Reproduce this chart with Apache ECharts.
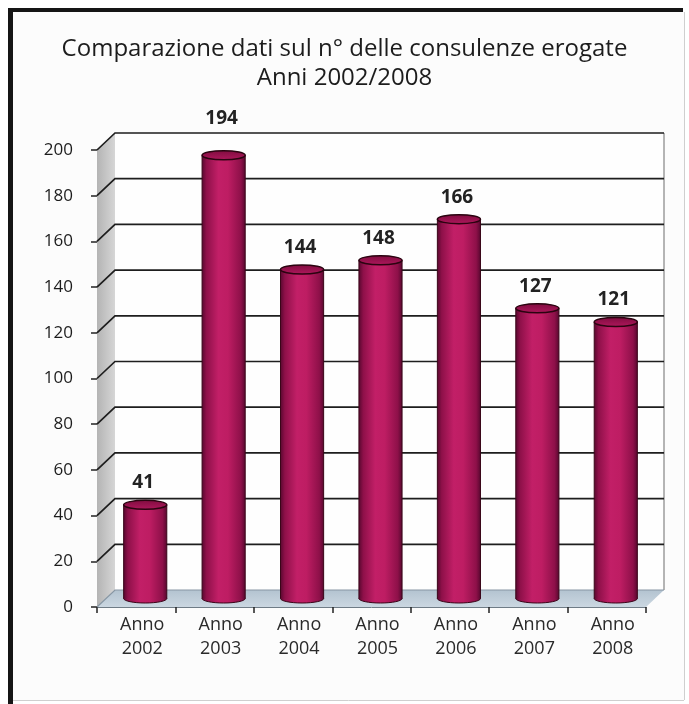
<!DOCTYPE html>
<html>
<head>
<meta charset="utf-8">
<script src="https://cdn.jsdelivr.net/npm/echarts@6/dist/echarts.min.js"></script>
<style>
  html, body { margin: 0; padding: 0; background: #ffffff; }
  #chart { width: 689px; height: 704px; }
</style>
</head>
<body>
<div id="chart"></div>
<script>
// Consulenze erogate per anno
const years = ['2002', '2003', '2004', '2005', '2006', '2007', '2008'];
const consulenze = [41, 194, 144, 148, 166, 127, 121];
const yTicks = [0, 20, 40, 60, 80, 100, 120, 140, 160, 180, 200];
const titleLines = ['Comparazione dati sul n° delle consulenze erogate', 'Anni 2002/2008'];
const categoryLabels = years.map(y => 'Anno\n' + y);

// Pseudo-3D depth of the plot box (back wall offset from the front plane)
const DEPTH_X = 18;
const DEPTH_Y = -17;
const FONT = '"Open Sans", "Noto Sans", "DejaVu Sans", sans-serif';

// Front-plane box of the plot, taken from the axes
function plotFrame(api) {
  const n = years.length;
  const bw = api.size([1, 0])[0];
  const first = api.coord([0, 0]);
  const last = api.coord([n - 1, 0]);
  const top = api.coord([0, yTicks[yTicks.length - 1]]);
  return {
    left: first[0] - bw / 2,
    right: last[0] + bw / 2,
    bottom: first[1],
    top: top[1],
    bw: bw
  };
}

// Back wall, side wall and floor
function renderWalls(params, api) {
  const f = plotFrame(api);
  const L = f.left, R = f.right, B = f.bottom, T = f.top;
  const dx = DEPTH_X, dy = DEPTH_Y;
  return {
    type: 'group',
    children: [
      {
        type: 'rect',
        shape: { x: L + dx, y: T + dy, width: R - L, height: B - T },
        style: { fill: '#fefefe' }
      },
      {
        type: 'polygon',
        shape: { points: [[L, T], [L + dx, T + dy], [L + dx, B + dy], [L, B]] },
        style: {
          fill: new echarts.graphic.LinearGradient(0, 0, 1, 0, [
            { offset: 0, color: '#b4b4b4' },
            { offset: 1, color: '#d6d6d6' }
          ])
        }
      },
      {
        type: 'polygon',
        shape: { points: [[L, B], [L + dx, B + dy], [R + dx, B + dy], [R, B]] },
        style: {
          fill: new echarts.graphic.LinearGradient(0, 0, 0, 1, [
            { offset: 0, color: '#b3c3d0' },
            { offset: 1, color: '#cbd7e1' }
          ])
        }
      },
      {
        type: 'line',
        shape: { x1: R + dx, y1: T + dy, x2: R + dx, y2: B + dy },
        style: { stroke: '#9c9c9c', lineWidth: 1.5 }
      }
    ]
  };
}

// One grid line per tick: diagonal on the side wall, then across the back wall
function renderGridLine(params, api) {
  const f = plotFrame(api);
  const v = api.value(1);
  const y = api.coord([0, v])[1];
  return {
    type: 'polyline',
    shape: {
      points: [
        [f.left, y],
        [f.left + DEPTH_X, y + DEPTH_Y],
        [f.right + DEPTH_X, y + DEPTH_Y]
      ]
    },
    style: {
      fill: null,
      stroke: v === 0 ? '#8796a3' : '#1e1e1e',
      lineWidth: v === 0 ? 1.2 : 1.7
    }
  };
}

// Cylinder bars standing halfway into the depth of the box
function renderCylinder(params, api) {
  const f = plotFrame(api);
  const i = api.value(0);
  const v = api.value(1);
  const base = api.coord([i, 0]);
  const topP = api.coord([i, v]);
  const rx = f.bw * 0.275;
  const ry = 4.5;
  const cx = base[0] + DEPTH_X / 2;
  const by = base[1] + DEPTH_Y / 2;
  const ty = topP[1] + DEPTH_Y / 2;
  const wallTop = f.top + DEPTH_Y;
  // value label sits above the cylinder; lifted over the top edge of the wall when it would touch it
  let labelY = ty - 22;
  if (labelY < wallTop + 12) labelY = wallTop - 14;

  const bodyFill = () => new echarts.graphic.LinearGradient(0, 0, 1, 0, [
    { offset: 0, color: '#5a0830' },
    { offset: 0.1, color: '#8e1049' },
    { offset: 0.38, color: '#c21f67' },
    { offset: 0.6, color: '#be1d63' },
    { offset: 0.9, color: '#8e1049' },
    { offset: 1, color: '#5a0830' }
  ]);

  return {
    type: 'group',
    children: [
      {
        type: 'ellipse',
        shape: { cx: cx, cy: by, rx: rx, ry: ry },
        style: { fill: bodyFill(), stroke: '#3a0619', lineWidth: 1 }
      },
      {
        type: 'rect',
        shape: { x: cx - rx, y: ty, width: rx * 2, height: by - ty },
        style: { fill: bodyFill() }
      },
      {
        type: 'line',
        shape: { x1: cx - rx, y1: ty, x2: cx - rx, y2: by },
        style: { stroke: '#3a0619', lineWidth: 1 }
      },
      {
        type: 'line',
        shape: { x1: cx + rx, y1: ty, x2: cx + rx, y2: by },
        style: { stroke: '#3a0619', lineWidth: 1 }
      },
      {
        type: 'ellipse',
        shape: { cx: cx, cy: ty, rx: rx, ry: ry },
        style: {
          fill: new echarts.graphic.LinearGradient(0, 0, 0, 1, [
            { offset: 0, color: '#7e0c3e' },
            { offset: 1, color: '#b0185d' }
          ]),
          stroke: '#2a0410',
          lineWidth: 1.5
        }
      },
      {
        type: 'text',
        style: {
          text: String(v),
          x: cx - 2,
          y: labelY,
          align: 'center',
          verticalAlign: 'middle',
          font: 'bold 19px ' + FONT,
          fill: '#222222'
        }
      }
    ]
  };
}

const chart = echarts.init(document.getElementById('chart'), null, { renderer: 'canvas' });

chart.setOption({
  backgroundColor: '#ffffff',
  animation: false,
  title: {
    text: titleLines.join('\n'),
    left: 'center',
    top: 30,
    textStyle: {
      fontSize: 24,
      lineHeight: 29,
      fontWeight: 'normal',
      fontFamily: FONT,
      color: '#1c1c1c'
    }
  },
  graphic: [
    {
      type: 'rect',
      z: -10,
      shape: { x: 10, y: 10, width: 674, height: 690 },
      style: { fill: '#fcfcfc' }
    },
    {
      type: 'line',
      shape: { x1: 8, y1: 10, x2: 683, y2: 10 },
      style: { stroke: '#151515', lineWidth: 4 }
    },
    {
      type: 'line',
      shape: { x1: 10.5, y1: 8, x2: 10.5, y2: 704 },
      style: { stroke: '#151515', lineWidth: 5 }
    },
    {
      type: 'line',
      shape: { x1: 684.5, y1: 12, x2: 684.5, y2: 700 },
      style: { stroke: '#cfcfcf', lineWidth: 1 }
    },
    {
      type: 'line',
      shape: { x1: 13, y1: 700.5, x2: 684, y2: 700.5 },
      style: { stroke: '#cfcfcf', lineWidth: 1 }
    }
  ],
  grid: { left: 97, top: 150, width: 549, height: 457, containLabel: false },
  xAxis: {
    type: 'category',
    data: categoryLabels,
    boundaryGap: true,
    axisLine: { show: true, lineStyle: { color: '#6f7c86', width: 1 } },
    axisTick: { show: true, length: 6, lineStyle: { color: '#222222', width: 1.5 } },
    axisLabel: {
      fontSize: 18,
      lineHeight: 24,
      margin: 6,
      padding: [0, 0, 0, 12],
      color: '#2a2a2a',
      fontFamily: FONT,
      interval: 0
    },
    splitLine: { show: false }
  },
  yAxis: {
    type: 'value',
    min: 0,
    max: 200,
    interval: 20,
    axisLine: { show: true, lineStyle: { color: '#444444', width: 1 } },
    axisTick: { show: true, length: 6, lineStyle: { color: '#222222', width: 1.5 } },
    axisLabel: {
      fontSize: 17,
      margin: 24,
      color: '#1c1c1c',
      fontFamily: FONT
    },
    splitLine: { show: false }
  },
  series: [
    {
      type: 'custom',
      name: 'pareti',
      renderItem: renderWalls,
      data: [[0, 0]],
      encode: { x: 0, y: 1 },
      z: 1,
      silent: true
    },
    {
      type: 'custom',
      name: 'griglia',
      renderItem: renderGridLine,
      data: yTicks.map(v => [0, v]),
      encode: { x: 0, y: 1 },
      z: 2,
      silent: true
    },
    {
      type: 'custom',
      name: 'Consulenze',
      renderItem: renderCylinder,
      data: consulenze.map((v, i) => [i, v]),
      encode: { x: 0, y: 1 },
      z: 3
    }
  ]
});
</script>
</body>
</html>
